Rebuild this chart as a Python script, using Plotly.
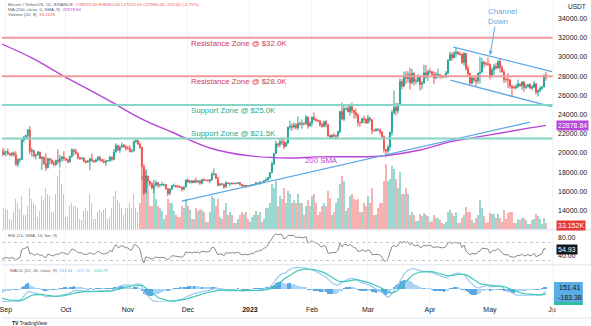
import pandas as pd
import plotly.graph_objects as go

# ---------------- data (BTC/USDT daily) ----------------
warmup_close = [23150, 23230, 22680, 22450, 22580, 21310, 21250, 22950, 23850, 23770, 23640, 23290,
                23270, 22980, 22820, 22610, 23310, 23260, 23170, 23810, 23150, 23950, 23940, 24400,
                24440, 24300, 24100, 23850, 23340, 23190, 20830, 21140, 21520, 21400, 21530, 21370,
                21570, 20240, 20040, 19550, 20290]  # 2022-07-20 .. 2022-08-29 (indicator warm-up only)

close_aug = [19800, 20050]
close_sep = [20130, 19950, 19830, 19990, 19800, 18790, 19290, 19320, 21360, 21650, 21830, 22400, 20170, 20230, 19700,
             19800, 20110, 19420, 19540, 18880, 18480, 19400, 19290, 18920, 18800, 19220, 19080, 19410, 19590, 19420]
close_oct = [19310, 19060, 19620, 20340, 20160, 19960, 19530, 19420, 19450, 19130, 19060, 19160, 19380, 19180, 19070, 19270,
             19550, 19330, 19120, 19040, 19160, 19210, 19570, 19330, 20090, 20770, 20290, 20600, 20810, 20630, 20490]
close_nov = [20480, 20150, 20210, 21150, 21300, 20910, 20590, 18540, 15880, 17590, 17070, 16810, 16330, 16620, 16900,
             16660, 16690, 16700, 16700, 16280, 15780, 16230, 16600, 16600, 16520, 16460, 16430, 16220, 16440, 17170]
close_dec = [16980, 17090, 16890, 17110, 16970, 17090, 16840, 17220, 17130, 17130, 17090, 17210, 17780, 17810, 17360, 16630,
             16780, 16740, 16440, 16900, 16820, 16830, 16780, 16840, 16830, 16920, 16710, 16550, 16630, 16600, 16540]
close_jan = [16620, 16680, 16680, 16860, 16830, 16950, 16940, 17120, 17180, 17440, 17940, 18850, 19930, 20950, 20870, 21180,
             21130, 20680, 21070, 22670, 22780, 22710, 22920, 22630, 23060, 23010, 23080, 23030, 23740, 22830, 23130]
close_feb = [23730, 23490, 23430, 23330, 22930, 22760, 23250, 22960, 21800, 21630, 21860, 21780, 21780, 22200,
             24330, 23520, 24570, 24630, 24280, 24840, 24440, 24180, 23940, 23190, 23160, 23560, 23490, 23140]
close_mar = [23640, 23470, 22360, 22350, 22430, 22410, 22200, 21700, 20360, 20190, 20630, 22160, 24200, 24750, 24380, 25050,
             27420, 26970, 28040, 27770, 28180, 27300, 28300, 27450, 27480, 27990, 27140, 27270, 28350, 28030, 28480]
close_apr = [28460, 28200, 27800, 28170, 28170, 28040, 27920, 27950, 28330, 29650, 30240, 29900, 30390, 30490, 30320,
             30320, 29430, 30380, 28800, 28250, 27270, 27820, 27590, 27510, 28310, 28420, 29470, 29340, 29250, 29230]
close_may = [28070, 28670, 29030, 28850, 29530, 28900, 28430, 27660, 27630, 27620, 26990, 26810, 26780, 26920, 27170,
             27030, 27400, 26830, 26890, 27120, 26750, 26850, 27220, 26330, 26480, 26720, 26870, 28070, 27860]

high_aug = [20580, 20490]
high_sep = [20200, 20440, 20000, 20060, 20160, 20180, 19460, 19450, 21440, 21790, 21860, 22490, 22800, 20540, 20330,
            19900, 20190, 20100, 19690, 19630, 19950, 19500, 19500, 19310, 19180, 19310, 20380, 19790, 19650, 20180]
high_oct = [19480, 19400, 19720, 20480, 20360, 20460, 20060, 19600, 19560, 19530, 19260, 19230, 19520, 19950, 19230, 19420,
            19680, 19710, 19350, 19350, 19250, 19250, 19700, 19600, 20420, 21020, 20850, 20750, 21090, 20930, 20840]
high_nov = [20700, 20800, 20390, 21300, 21480, 21370, 21070, 20670, 18590, 18150, 17660, 17080, 16950, 17190, 17130,
            16990, 16720, 17010, 16820, 16750, 16290, 16300, 16680, 16810, 16600, 16700, 16610, 16490, 16530, 17250]
high_dec = [17320, 17110, 17160, 17200, 17430, 17100, 17140, 17300, 17360, 17230, 17270, 17240, 18000, 18390, 17850, 17530,
            16800, 16870, 16810, 17060, 16920, 16870, 16960, 16870, 16860, 16940, 16970, 16770, 16650, 16640, 16630]
high_jan = [16630, 16760, 16780, 16990, 16880, 17040, 16960, 17180, 17400, 17490, 18000, 19100, 19990, 21260, 21000, 21440,
            21650, 21560, 21190, 22750, 23370, 23080, 23160, 23120, 23820, 23290, 23500, 23190, 23960, 23800, 23320]
high_feb = [23810, 24250, 23590, 23480, 23430, 23160, 23350, 23450, 23010, 21940, 21910, 22090, 21890, 22330,
            24370, 25250, 24890, 24760, 25000, 25120, 25250, 24470, 24600, 24120, 23220, 23690, 23880, 23600]
high_mar = [23970, 23780, 23480, 22420, 22610, 22600, 22530, 22270, 21820, 20370, 20850, 22190, 24500, 26500, 25250, 25200,
            27760, 27720, 28470, 28530, 28500, 28870, 28750, 28400, 27800, 28200, 28030, 27500, 29190, 29160, 28660]
high_apr = [28800, 28540, 28500, 28440, 28780, 28200, 28100, 28170, 28530, 29770, 30550, 30490, 30620, 31000, 30610,
            30550, 30330, 30500, 30410, 29100, 28380, 27880, 27820, 28000, 28390, 30020, 29880, 29600, 29460, 29960]
high_may = [29330, 28880, 29270, 29370, 29680, 29840, 29150, 28660, 27820, 28330, 27640, 27050, 27030, 27200, 27660,
            27280, 27470, 27490, 27180, 27160, 27280, 27080, 27500, 27220, 26640, 26930, 26990, 28200, 28450]

low_aug = [19540, 19800]
low_sep = [19650, 19750, 19650, 19600, 19640, 18680, 18540, 19010, 19300, 21110, 21350, 21560, 19860, 19620, 19500,
           19320, 19750, 19380, 18230, 18770, 18130, 18360, 18800, 18820, 18630, 18680, 18810, 18470, 19100, 19160]
low_oct = [19160, 18920, 19000, 19500, 19730, 19850, 19320, 19260, 19320, 19020, 18860, 18960, 18190, 19070, 18980, 19060,
           19160, 19100, 19060, 18900, 18650, 19110, 19080, 19160, 19240, 20060, 20220, 20000, 20560, 20520, 20220]
low_nov = [20350, 20050, 20030, 20180, 21080, 20900, 20390, 17170, 15590, 15750, 16360, 16530, 16220, 15820, 16530,
           16380, 16400, 16560, 16550, 16180, 15480, 15630, 16150, 16460, 16360, 16420, 16400, 15990, 16100, 16440]
low_dec = [16860, 16790, 16860, 16880, 16870, 16900, 16680, 16740, 17060, 17090, 17070, 16870, 17090, 17660, 17280, 16530,
           16580, 16660, 16260, 16400, 16750, 16560, 16760, 16780, 16730, 16790, 16590, 16460, 16510, 16330, 16470]
low_jan = [16500, 16550, 16600, 16660, 16750, 16680, 16910, 16910, 17100, 17140, 17320, 17910, 18710, 19890, 20550, 20600,
           20850, 20400, 20660, 20880, 22420, 22290, 22530, 22460, 22350, 22850, 22530, 22880, 22980, 22540, 22720]
low_feb = [22760, 23370, 23230, 23280, 22750, 22630, 22750, 22680, 21690, 21460, 21600, 21630, 21350, 21530,
           22050, 23500, 23330, 24440, 24250, 23880, 24150, 23570, 23610, 22770, 22720, 23060, 23110, 23020]
low_mar = [23030, 23200, 21970, 22200, 22200, 22280, 21930, 21580, 20040, 19550, 19940, 20270, 21820, 24000, 23900, 24120,
           24890, 26600, 26850, 27180, 27350, 26620, 27160, 27030, 27150, 27360, 26520, 26630, 27250, 27720, 27500]
low_apr = [28250, 27880, 27200, 27680, 27820, 27730, 27780, 27880, 27800, 28180, 29620, 29600, 29880, 29970, 30200,
           30130, 29270, 29100, 28600, 28000, 27130, 27150, 27340, 26940, 27200, 27250, 28370, 28880, 29080, 29090]
low_may = [27680, 27870, 28130, 28670, 28800, 28380, 28380, 27280, 27350, 26770, 26700, 25810, 26700, 26600, 26750,
           26880, 26550, 26360, 26650, 26850, 26680, 26560, 26800, 26090, 25870, 26340, 26580, 26850, 27520]

# volume in thousands
vol_aug = [123, 111]
vol_sep = [105, 99, 51, 45, 87, 156, 138, 105, 174, 75, 75, 123, 216, 156, 138, 123, 63, 93, 174, 150,
           216, 186, 174, 87, 87, 186, 279, 312, 237, 186]
vol_oct = [63, 63, 123, 138, 123, 123, 111, 51, 45, 93, 111, 93, 186, 138, 51, 51, 87, 99, 87, 99,
           111, 51, 63, 111, 174, 198, 150, 138, 111, 75, 111]
vol_nov = [111, 138, 111, 186, 111, 87, 138, 279, 342, 312, 216, 123, 123, 216, 156, 123, 111, 93, 51, 75,
           156, 138, 138, 93, 75, 63, 63, 123, 111, 156]
vol_dec = [123, 99, 51, 51, 111, 93, 105, 99, 87, 36, 36, 87, 174, 162, 123, 156, 63, 51, 99, 138,
           75, 87, 75, 30, 30, 51, 75, 87, 81, 87, 51]
vol_jan = [36, 63, 75, 93, 75, 87, 36, 51, 111, 111, 138, 237, 216, 249, 123, 174, 156, 216, 138, 198,
           186, 138, 150, 138, 186, 138, 138, 75, 123, 150, 123]
vol_feb = [174, 186, 138, 75, 87, 123, 138, 123, 198, 162, 75, 87, 138, 162, 237, 279, 249, 93, 111, 174,
           186, 156, 150, 156, 87, 87, 138, 123]
vol_mar = [174, 138, 216, 75, 75, 111, 138, 138, 249, 342, 249, 261, 330, 312, 261, 216, 297, 186, 186, 216,
           186, 75, 90, 72, 42, 42, 78, 66, 84, 72, 66]
vol_apr = [36, 42, 72, 60, 60, 48, 30, 24, 36, 90, 102, 84, 66, 90, 30, 30, 60, 72, 114, 90,
           90, 48, 30, 60, 72, 150, 108, 66, 30, 36]
vol_may = [84, 78, 78, 60, 78, 60, 36, 102, 54, 84, 90, 90, 30, 30, 54, 48, 60, 60, 48, 27,
           27, 48, 54, 78, 66, 54, 27, 60, 33.152]

# 200-day SMA
sma_dates = ["2022-08-30", "2022-09-14", "2022-09-29", "2022-10-22", "2022-11-07", "2022-11-24", "2022-12-12",
             "2023-01-01", "2023-01-21", "2023-02-04", "2023-03-08", "2023-03-27", "2023-04-11", "2023-05-01",
             "2023-05-21", "2023-05-29"]
sma_vals = [31350, 29900, 28120, 25520, 23640, 22080, 20520, 19690, 19480, 19590, 19690, 20310, 21150, 21880,
            22610, 22879]

# drawings (date, price)
trend_dates = ["2022-11-28", "2023-05-21"]
trend_vals = [14970, 23218]
chan_up_dates = ["2023-04-12 16:00", "2023-06-01 00:00"]
chan_up_vals = [31040, 28470]
chan_lo_dates = ["2023-04-11 04:00", "2023-05-31 20:00"]
chan_lo_vals = [27600, 24820]
resistance_levels = [32000, 28000]
support_levels = [25000, 21500]

month_ticks = ["2022-09-01", "2022-10-01", "2022-11-01", "2022-12-01", "2023-01-01", "2023-02-01",
               "2023-03-01", "2023-04-01", "2023-05-01", "2023-06-01"]
month_labels = ["Sep", "Oct", "Nov", "Dec", "<b>2023</b>", "Feb", "Mar", "Apr", "May", "Ju"]
price_ticks = [14000, 16000, 18000, 20000, 22000, 24000, 26000, 28000, 30000, 32000, 34000]

# ---------------- assemble ----------------
close = close_aug + close_sep + close_oct + close_nov + close_dec + close_jan + close_feb + close_mar + close_apr + close_may
high = high_aug + high_sep + high_oct + high_nov + high_dec + high_jan + high_feb + high_mar + high_apr + high_may
low = low_aug + low_sep + low_oct + low_nov + low_dec + low_jan + low_feb + low_mar + low_apr + low_may
volume = vol_aug + vol_sep + vol_oct + vol_nov + vol_dec + vol_jan + vol_feb + vol_mar + vol_apr + vol_may

dates = pd.date_range("2022-08-30", periods=len(close), freq="D")
warm_dates = pd.date_range(end="2022-08-29", periods=len(warmup_close), freq="D")
series = pd.Series([float(v) for v in warmup_close + close], index=warm_dates.append(dates))
opens = series.shift(1).loc[dates].to_numpy()

# RSI (14, Wilder)
dlt = series.diff()
up = dlt.clip(lower=0).ewm(alpha=1 / 14, adjust=False).mean()
dn = (-dlt.clip(upper=0)).ewm(alpha=1 / 14, adjust=False).mean()
rsi = (100 - 100 / (1 + up / dn)).loc[dates]

# MACD (12, 26, 9)
macd_full = series.ewm(span=12, adjust=False).mean() - series.ewm(span=26, adjust=False).mean()
sig_full = macd_full.ewm(span=9, adjust=False).mean()
hist_full = macd_full - sig_full
macd = macd_full.loc[dates]
sig = sig_full.loc[dates]
hist = hist_full.loc[dates]
hdiff = hist_full.diff().loc[dates]

GREEN = "#26a69a"
RED = "#ef5350"
up_day = [c >= o for c, o in zip(close, opens)]
vol_colors = ["rgba(38,166,154,0.45)" if u else "rgba(239,83,80,0.45)" for u in up_day]
hist_colors = []
for h, hd in zip(hist, hdiff):
    strong = (h >= 0 and hd >= 0) or (h < 0 and hd < 0)
    hist_colors.append("#5aa7e6" if strong else "#a9d2f3")

# ---------------- geometry helpers ----------------
W, H = 591, 326
PW = 553          # plot width px
PH = 303          # plot height px


def py(p):
    return (PH - p) / PH


def px(p):
    return p / PW


FONT = "Liberation Sans"
TXT = "#131722"
DAY = 86400000

fig = go.Figure()

fig.add_trace(go.Bar(x=dates, y=volume, marker=dict(color=vol_colors, line=dict(width=0)),
                     width=0.62 * DAY, xaxis="x", yaxis="y2", hoverinfo="skip"))
fig.add_trace(go.Candlestick(x=dates, open=opens, high=high, low=low, close=close,
                             increasing=dict(line=dict(color=GREEN, width=1), fillcolor=GREEN),
                             decreasing=dict(line=dict(color=RED, width=1), fillcolor=RED),
                             whiskerwidth=0, xaxis="x", yaxis="y"))
fig.add_trace(go.Scatter(x=sma_dates, y=sma_vals, mode="lines", line=dict(color="#b845d6", width=1.4, shape="spline"),
                         xaxis="x", yaxis="y", hoverinfo="skip"))
for dd, vv in [(trend_dates, trend_vals), (chan_up_dates, chan_up_vals), (chan_lo_dates, chan_lo_vals)]:
    fig.add_trace(go.Scatter(x=dd, y=vv, mode="lines", line=dict(color="#5ea8e6", width=1.3),
                             xaxis="x", yaxis="y", hoverinfo="skip"))

# RSI pane
fig.add_trace(go.Scatter(x=dates, y=rsi, mode="lines", line=dict(color="#8a8a8a", width=1),
                         xaxis="x2", yaxis="y3", hoverinfo="skip"))
# MACD pane
fig.add_trace(go.Bar(x=dates, y=hist, marker=dict(color=hist_colors, line=dict(width=0)), width=0.7 * DAY,
                     xaxis="x3", yaxis="y4", hoverinfo="skip"))
fig.add_trace(go.Scatter(x=dates, y=macd, mode="lines", line=dict(color="#9ccaf4", width=1.2),
                         xaxis="x3", yaxis="y4", hoverinfo="skip"))
fig.add_trace(go.Scatter(x=dates, y=sig, mode="lines", line=dict(color="#3fc9b4", width=1.2),
                         xaxis="x3", yaxis="y4", hoverinfo="skip"))

hi = max(macd.max(), sig.max(), hist.max()) * 1.06
lo = -hi * 13 / 23

xr = ["2022-08-30 02:00", "2023-06-01 12:00"]
xcommon = dict(range=xr, type="date", tickvals=month_ticks, showgrid=True, gridcolor="#f0f3fa", gridwidth=1,
               zeroline=False, showline=False, ticks="")

fig.update_layout(
    width=W, height=H, margin=dict(l=0, r=W - PW, t=0, b=H - PH),
    paper_bgcolor="white", plot_bgcolor="white", showlegend=False,
    font=dict(family=FONT, color=TXT, size=7),
    bargap=0,
    xaxis=dict(domain=[0, 1], anchor="y", showticklabels=False, rangeslider=dict(visible=False), **xcommon),
    xaxis2=dict(domain=[0, 1], anchor="y3", matches="x", showticklabels=False, **xcommon),
    xaxis3=dict(domain=[0, 1], anchor="y4", matches="x", showticklabels=True, ticktext=month_labels,
                tickfont=dict(size=7, color=TXT), ticklabelstandoff=2, ticklabeloverflow="allow", **xcommon),
    yaxis=dict(domain=[py(229), 1], side="right", range=[12076, 35938], tickvals=price_ticks, tickformat=".2f",
               showgrid=False, zeroline=False, ticks="", tickfont=dict(size=7, color=TXT), ticklabelstandoff=4),
    yaxis2=dict(overlaying="y", range=[0, 1200], visible=False),
    yaxis3=dict(domain=[py(264), py(231)], side="right", range=[22.2, 95.6], tickvals=[40, 80], tickformat=".2f",
                showgrid=False, zeroline=False, ticks="", tickfont=dict(size=7, color=TXT), ticklabelstandoff=4),
    yaxis4=dict(domain=[py(302), py(266)], side="right", range=[lo, hi], showticklabels=False,
                showgrid=False, zeroline=False, ticks=""),
)

shapes = []
for lv in resistance_levels:
    shapes.append(dict(type="line", xref="paper", x0=0, x1=1, yref="y", y0=lv, y1=lv,
                       line=dict(color="#f29a9a", width=2)))
for lv in support_levels:
    shapes.append(dict(type="line", xref="paper", x0=0, x1=1, yref="y", y0=lv, y1=lv,
                       line=dict(color="#86d6c8", width=2)))
for lv in [70, 30]:
    shapes.append(dict(type="line", xref="paper", x0=0, x1=1, yref="y3", y0=lv, y1=lv,
                       line=dict(color="#c3c6ce", width=1, dash="3px,3px")))
# pane separators / borders
for p in [229.8, 264.8]:
    shapes.append(dict(type="line", xref="paper", x0=0, x1=W / PW, yref="paper", y0=py(p), y1=py(p),
                       line=dict(color="#e0e3eb", width=1)))
shapes.append(dict(type="line", xref="paper", x0=0, x1=W / PW, yref="paper", y0=py(318), y1=py(318),
                   line=dict(color="#e0e3eb", width=1)))
shapes.append(dict(type="line", xref="paper", x0=1, x1=1, yref="paper", y0=py(318), y1=1,
                   line=dict(color="#eef0f4", width=1)))
# MACD value boxes
shapes.append(dict(type="rect", xref="paper", x0=px(554), x1=px(583), yref="paper", y0=py(302), y1=py(282),
                   fillcolor="#5aace6", line=dict(width=0)))
shapes.append(dict(type="rect", xref="paper", x0=px(554), x1=px(583), yref="paper", y0=py(305), y1=py(302),
                   fillcolor="#2fbf9f", line=dict(width=0)))
fig.update_layout(shapes=shapes)

ann = []


def text(x, y, s, color, size, xref="x", yref="y", xanchor="left", yanchor="middle", align="left", **kw):
    ann.append(dict(x=x, y=y, xref=xref, yref=yref, text=s, showarrow=False, xanchor=xanchor, yanchor=yanchor,
                    align=align, font=dict(color=color, size=size, family=FONT), **kw))


RES_C = "#d23a4c"
SUP_C = "#22ab94"
text("2022-12-01 16:00", 31354, "Resistance Zone @ $32.0K", RES_C, 7.8)
text("2022-12-01 16:00", 27395, "Resistance Zone @ $28.0K", RES_C, 7.8)
text("2022-12-01 16:00", 24469, "Support Zone @ $25.0K", SUP_C, 7.8)
text("2022-12-01 16:00", 21980, "Support Zone @ $21.5K", SUP_C, 7.8)
text("2023-01-27 12:00", 19167, "200 SMA", "#b845d6", 7.8)
text("2023-04-29 02:00", 34240, "Channel<br>Down", "#5ea8e6", 7.8)
ann.append(dict(x="2023-05-01 02:00", y=30208, xref="x", yref="y", text="", showarrow=True, ax=5, ay=-30,
                arrowhead=2, arrowsize=0.8, arrowwidth=1, arrowcolor="#5ea8e6"))

# right-side value labels
text(px(556), 22878.84, "22878.84", "white", 7, xref="paper", yref="y", bgcolor="#b845d6", borderpad=1)
text(px(556), py(225.5), "33.152K", "white", 7, xref="paper", yref="paper", bgcolor="#e53935", borderpad=1)
text(px(556), 54.93, "54.93", "white", 7, xref="paper", yref="y3", bgcolor="#131722", borderpad=1)
text(px(557), py(287), "151.41", TXT, 7, xref="paper", yref="paper")
text(px(556), py(297), "-183.38", TXT, 7, xref="paper", yref="paper")
text(px(566), py(7), "USDT", TXT, 6.5, xref="paper", yref="paper")

# top-left legends
last_o, last_h, last_l, last_c = opens[-1], high[-1], low[-1], close[-1]
chg = last_c - last_o
text(px(4), py(4.5), "Bitcoin / TetherUS, 1D, BINANCE  <span style='color:#ef5350'>O%.2f H%.2f L%.2f C%.2f %.2f (%.2f%%)</span>"
     % (last_o, last_h, last_l, last_c, chg, chg / last_o * 100), "#5d606b", 4.4, xref="paper", yref="paper")
text(px(4), py(9.5), "MA (200, close, 0, SMA, 9)  <span style='color:#b845d6'>22878.84</span>", "#5d606b", 4.4,
     xref="paper", yref="paper")
text(px(4), py(14.5), "Volume (20, 9)  <span style='color:#ef5350'>33.152K</span>", "#5d606b", 4.4,
     xref="paper", yref="paper")
text(px(4), py(235.5), "RSI (14, SMA, 14, 5m, 9)", "#5d606b", 4.4, xref="paper", yref="paper")
text(px(6), py(270), "MACD (12, 26, close, 9)  <span style='color:#5aa7e6'>151.41</span>  "
     "<span style='color:#9ccaf4'>-183.38</span>  <span style='color:#3fc9b4'>-334.79</span>", "#5d606b", 4.4,
     xref="paper", yref="paper")
text(px(8), py(322.5), "<b>TV</b> TradingView", "#131722", 5, xref="paper", yref="paper")

fig.update_layout(annotations=ann)
fig.write_html("out.html")
